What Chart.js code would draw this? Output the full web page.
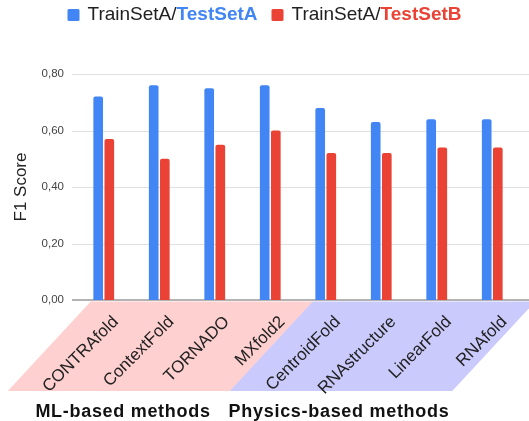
<!DOCTYPE html>
<html>
<head>
<meta charset="utf-8">
<script src="https://cdn.jsdelivr.net/npm/chart.js@4.4.1/dist/chart.umd.min.js"></script>
<style>
  html, body { margin: 0; padding: 0; background: #ffffff; }
  #wrap { width: 529px; height: 421px; position: relative; }
</style>
</head>
<body>
<div id="wrap"><canvas id="c" width="529" height="421"></canvas></div>
<script>
// Folding tools, in plotting order
const methods = ['CONTRAfold', 'ContextFold', 'TORNADO', 'MXfold2',
                 'CentroidFold', 'RNAstructure', 'LinearFold', 'RNAfold'];
// F1 score per tool on each test set
const testSetA = [0.72, 0.76, 0.75, 0.76, 0.68, 0.63, 0.64, 0.64];
const testSetB = [0.57, 0.50, 0.55, 0.60, 0.52, 0.52, 0.54, 0.54];
// Value axis ticks
const yTicks = [0, 0.2, 0.4, 0.6, 0.8];
// Legend entries: plain prefix + highlighted test-set name
const legendPrefix = ['TrainSetA/', 'TrainSetA/'];
const legendSuffix = ['TestSetA', 'TestSetB'];
// Method families (index ranges into `methods`)
const groupNames = ['ML-based methods', 'Physics-based methods'];
const groupFirst = [0, 4];
const groupLast = [3, 7];

const BLUE = '#4285f4';
const RED = '#ea4335';
const GROUP_FILL = ['rgb(255, 208, 208)', 'rgb(202, 202, 252)'];
const FONT = '"Liberation Sans", Arial, Helvetica, sans-serif';
const GRID = '#e0e0e0';
const ZERO = '#9a9a9a';

const fmt = v => v.toFixed(2).replace('.', ',');

// Slanted bands behind the rotated method names, plus the family captions
const groupBands = {
  id: 'groupBands',
  bandGeom(chart, g) {
    const xs = chart.scales.x;
    const top = chart.chartArea.bottom + 1.5;
    const bottom = 391;
    const shift = 83;
    const left = xs.getPixelForValue(groupFirst[g]) - 13;
    const right = xs.getPixelForValue(groupLast[g]) + 43;
    return { top, bottom, left, right, shift };
  },
  beforeDraw(chart) {
    const ctx = chart.ctx;
    ctx.save();
    for (let g = 0; g < groupNames.length; g++) {
      const b = this.bandGeom(chart, g);
      ctx.fillStyle = GROUP_FILL[g];
      ctx.beginPath();
      ctx.moveTo(b.left, b.top);
      ctx.lineTo(b.right, b.top);
      ctx.lineTo(b.right - b.shift, b.bottom);
      ctx.lineTo(b.left - b.shift, b.bottom);
      ctx.closePath();
      ctx.fill();
    }
    ctx.restore();
  },
  afterDraw(chart) {
    const ctx = chart.ctx;
    ctx.save();
    ctx.font = 'bold 18px ' + FONT;
    ctx.letterSpacing = '0.7px';
    ctx.fillStyle = '#111111';
    ctx.textBaseline = 'alphabetic';
    ctx.textAlign = 'left';
    const b0 = this.bandGeom(chart, 0);
    const w0 = ctx.measureText(groupNames[0]).width;
    const c0 = (b0.left + b0.right) / 2 - b0.shift + 4;
    const x0 = c0 - w0 / 2;
    ctx.fillText(groupNames[0], x0, 417);
    ctx.fillText(groupNames[1], x0 + w0 + 18, 417);
    ctx.restore();
  }
};

// Horizontal grid lines, from the tick marks to the right edge of the canvas
const gridLines = {
  id: 'gridLines',
  beforeDatasetsDraw(chart) {
    const ctx = chart.ctx;
    const ys = chart.scales.y;
    const ca = chart.chartArea;
    ctx.save();
    ys.ticks.forEach(t => {
      const isZero = t.value === 0;
      const y = Math.round(ys.getPixelForValue(t.value)) + (isZero ? 0 : 0.5);
      ctx.strokeStyle = isZero ? ZERO : GRID;
      ctx.lineWidth = isZero ? 1.5 : 1;
      ctx.beginPath();
      ctx.moveTo(ca.left - 4, y);
      ctx.lineTo(chart.width, y);
      ctx.stroke();
    });
    ctx.restore();
  }
};

// Centered legend with the test-set names highlighted
const richLegend = {
  id: 'richLegend',
  afterDraw(chart) {
    const ctx = chart.ctx;
    const colors = chart.data.datasets.map(d => d.backgroundColor);
    const size = 19;
    const plain = size + 'px ' + FONT;
    const bold = 'bold ' + size + 'px ' + FONT;
    const box = 12, boxGap = 8, itemGap = 14;
    ctx.save();
    const widths = legendPrefix.map((p, i) => {
      ctx.font = plain; const a = ctx.measureText(p).width;
      ctx.font = bold; const b = ctx.measureText(legendSuffix[i]).width;
      return [a, b];
    });
    const total = widths.reduce((s, w) => s + box + boxGap + w[0] + w[1], 0) + itemGap * (widths.length - 1);
    let x = (chart.width - total) / 2;
    const cy = 15;
    ctx.textBaseline = 'middle';
    widths.forEach((w, i) => {
      ctx.fillStyle = colors[i];
      ctx.beginPath();
      ctx.roundRect(x, cy - box / 2, box, box, 1.5);
      ctx.fill();
      x += box + boxGap;
      ctx.font = plain;
      ctx.fillStyle = '#212121';
      ctx.fillText(legendPrefix[i], x, cy);
      x += w[0];
      ctx.font = bold;
      ctx.fillStyle = colors[i];
      ctx.fillText(legendSuffix[i], x, cy);
      x += w[1] + itemGap;
    });
    ctx.restore();
  }
};

new Chart(document.getElementById('c'), {
  type: 'bar',
  data: {
    labels: methods,
    datasets: [
      { label: legendPrefix[0] + legendSuffix[0], data: testSetA, backgroundColor: BLUE,
        borderRadius: 2, categoryPercentage: 0.40, barPercentage: 0.87 },
      { label: legendPrefix[1] + legendSuffix[1], data: testSetB, backgroundColor: RED,
        borderRadius: 2, categoryPercentage: 0.40, barPercentage: 0.87 }
    ]
  },
  options: {
    responsive: false,
    animation: false,
    devicePixelRatio: 1,
    layout: { padding: { top: 74, right: 9, left: 0, bottom: 0 } },
    plugins: {
      legend: { display: false },
      tooltip: { enabled: false }
    },
    scales: {
      x: {
        grid: { display: false, drawTicks: false },
        border: { display: false },
        ticks: {
          autoSkip: false,
          minRotation: 45,
          maxRotation: 45,
          labelOffset: 12,
          padding: 12,
          color: '#222222',
          font: { family: FONT, size: 17 }
        },
        afterFit(scale) { scale.height = 121; }
      },
      y: {
        min: 0,
        max: 0.8,
        afterBuildTicks(scale) { scale.ticks = yTicks.map(v => ({ value: v })); },
        grid: { display: false, drawTicks: false },
        border: { display: false },
        ticks: {
          padding: 12,
          color: '#444444',
          font: { family: FONT, size: 11.5 },
          callback: v => fmt(v)
        },
        title: {
          display: true,
          text: 'F1 Score',
          color: '#222222',
          font: { family: FONT, size: 17 },
          padding: { top: 11, bottom: 0 }
        },
        afterFit(scale) { scale.width = 76; }
      }
    }
  },
  plugins: [groupBands, gridLines, richLegend]
});
</script>
</body>
</html>
